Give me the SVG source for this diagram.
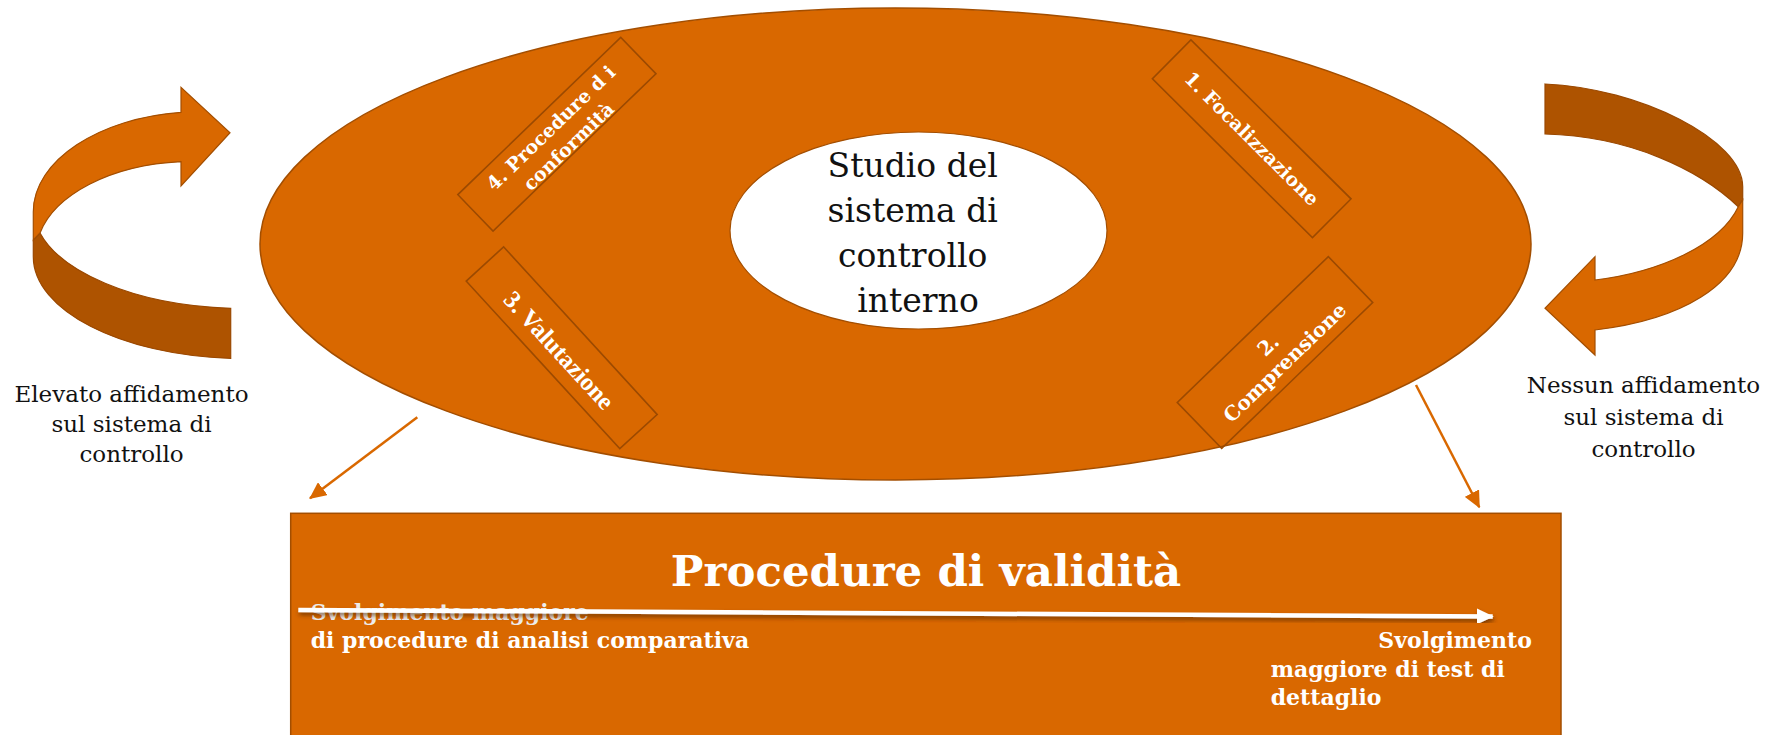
<svg xmlns="http://www.w3.org/2000/svg" width="1773" height="735" viewBox="0 0 1773 735">
<style>
.org{fill:#D96800;stroke:#A34E00;stroke-width:1.2}
.dark{fill:#AE5300;stroke:#9A4800;stroke-width:1.2}
.box{fill:none;stroke:#9C4A00;stroke-width:1.6}
.lbl{font-family:"DejaVu Serif",serif;font-weight:bold;fill:#FFFFFF;text-anchor:middle}
.side{font-family:"DejaVu Serif",serif;font-size:23px;fill:#111;text-anchor:middle}
.sub{font-family:"DejaVu Serif",serif;font-weight:bold;font-size:22px;fill:#FFFFFF}
.conn{stroke:#D96800;stroke-width:2.5;fill:none}
</style>
<defs>
<marker id="ah" markerUnits="userSpaceOnUse" markerWidth="18" markerHeight="16" refX="16" refY="8" orient="auto">
<path d="M0,0 L17,8 L0,16 Z" fill="#D96800"/>
</marker>
<marker id="wh" markerUnits="userSpaceOnUse" markerWidth="18" markerHeight="16" refX="16" refY="8" orient="auto">
<path d="M0,0 L17,8 L0,16 Z" fill="#FFFFFF"/>
</marker>
<filter id="sh" x="-5%" y="-100%" width="110%" height="300%">
<feDropShadow dx="1" dy="3" stdDeviation="2" flood-color="#5A2A00" flood-opacity="0.7"/>
</filter>
</defs>

<g id="left-arrow">
<path class="dark" d="M40,233 C60,270 130,305 230.7,308.3 L230.7,358.3 C120,355 33.3,310 33.3,256.7 L33.3,240 Z"/>
<path class="org" d="M181,112.3 L181,87.3 L230,132.7 L181,186 L181,161.7 C110,165 55,195 40,233 L33.3,240 L33.3,212 C33.3,160 100,118 181,112.3 Z"/>
</g>
<g id="left-label">
<text class="side" x="131.5" y="402">Elevato affidamento</text>
<text class="side" x="131.5" y="432">sul sistema di</text>
<text class="side" x="131.5" y="462">controllo</text>
</g>

<g id="right-arrow">
<path class="dark" d="M1545,84 C1640,88 1742.7,140 1742.7,186.7 L1742.7,200 L1738.3,206.7 C1700,170 1630,136 1545,134 Z"/>
<path class="org" d="M1738.3,206.7 L1742.7,200 L1742.7,233.3 C1742.7,285 1680,320 1595,330 L1595,355 L1545,308.3 L1595,256.7 L1595,280 C1660,272 1720,245 1738.3,206.7 Z"/>
</g>
<g id="right-label">
<text class="side" x="1643.5" y="393">Nessun affidamento</text>
<text class="side" x="1643.5" y="425">sul sistema di</text>
<text class="side" x="1643.5" y="457">controllo</text>
</g>

<g id="main-ellipse">
<ellipse cx="895.5" cy="244" rx="635.5" ry="236" fill="#D96800" stroke="#A34E00" stroke-width="1.5"/>
</g>

<g id="center">
<ellipse cx="918.5" cy="230.5" rx="188.5" ry="98.5" fill="#FFFFFF" stroke="#A34E00" stroke-width="1.2"/>
<text font-family="DejaVu Serif, serif" font-size="33" fill="#111" text-anchor="middle">
<tspan x="918" y="177">Studio del</tspan>
<tspan x="918" y="222">sistema di</tspan>
<tspan x="918" y="267">controllo</tspan>
<tspan x="918" y="312">interno</tspan>
</text>
</g>

<g id="step1" transform="translate(1251.7,138.8) rotate(44.8)">
<rect class="box" x="-112.8" y="-27.35" width="225.6" height="54.7"/>
<text class="lbl" font-size="19" x="0" y="6.5">1. Focalizzazione</text>
</g>

<g id="step2" transform="translate(1275,352.5) rotate(-44)">
<rect class="box" x="-105" y="-31.95" width="210" height="63.9"/>
<text class="lbl" font-size="20" x="0" y="-3">2.</text>
<text class="lbl" font-size="20" x="0" y="21">Comprensione</text>
</g>

<g id="step3" transform="translate(561.7,347.8) rotate(47.5)">
<rect class="box" x="-113.65" y="-25.35" width="227.3" height="50.7"/>
<text class="lbl" style="font-family:'Liberation Serif',serif" font-size="25" x="0" y="12">3. Valutazione</text>
</g>

<g id="step4" transform="translate(556.9,134.2) rotate(-44)">
<rect class="box" x="-113.25" y="-25.35" width="226.5" height="50.7"/>
<text class="lbl" font-size="19" x="0" y="-2">4. Procedure d i</text>
<text class="lbl" font-size="19" x="0" y="23.5">conformità</text>
</g>

<g id="validity">
<rect x="290.7" y="513.3" width="1270.3" height="240" fill="#D96800" stroke="#A34E00" stroke-width="1.5"/>
<text x="926" y="586" font-family="DejaVu Serif, serif" font-weight="bold" font-size="43.5" fill="#FFFFFF" text-anchor="middle">Procedure di validità</text>
<text class="sub" x="310.7" y="620" style="fill:#EDEDED">Svolgimento maggiore</text>
<text class="sub" x="310.7" y="648.3">di procedure di analisi comparativa</text>
<text class="sub" x="1378.3" y="648.3">Svolgimento</text>
<text class="sub" x="1270.7" y="677.3">maggiore di test di</text>
<text class="sub" x="1270.7" y="705">dettaglio</text>
</g>

<g id="connectors">
<line class="conn" x1="417.3" y1="417.3" x2="310" y2="498.3" marker-end="url(#ah)"/>
<line class="conn" x1="1416" y1="385" x2="1479.3" y2="507.3" marker-end="url(#ah)"/>
<line x1="298.3" y1="610" x2="1492.7" y2="616.5" stroke="#FFFFFF" stroke-width="4.5" marker-end="url(#wh)" filter="url(#sh)"/>
</g>
</svg>
